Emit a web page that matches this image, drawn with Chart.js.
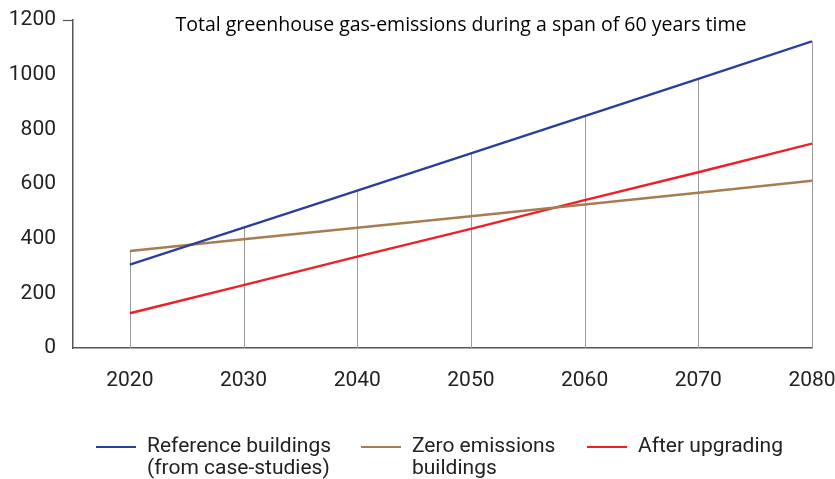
<!DOCTYPE html>
<html>
<head>
<meta charset="utf-8">
<script src="https://cdn.jsdelivr.net/npm/chart.js@4.4.0/dist/chart.umd.min.js"></script>
<style>
    html, body { margin: 0; padding: 0; background: #fff; }
    #wrap { position: relative; width: 835px; height: 479px; }
    #legend { position: absolute; left: 0; top: 434px; width: 835px; height: 45px; font-family: Roboto, sans-serif; font-size: 21px; color: #222; overflow: hidden; }
    .item { position: absolute; top: 0; display: flex; align-items: flex-start; }
    .swatch { width: 40px; height: 2px; margin-top: 12px; margin-right: 11px; }
    .label { line-height: 22px; }
</style>
</head>
<body>
<div id="wrap">
    <canvas id="lineChart" width="835" height="479"></canvas>
    <div id="legend"></div>
</div>
<script>
// Chart data
const years = [2020, 2030, 2040, 2050, 2060, 2070, 2080];
const referenceBuildings = [305, 440, 576, 712, 848, 985, 1122];
const zeroEmissions = [355, 398, 440, 482, 525, 568, 612];
const afterUpgrading = [127, 230, 334, 436, 541, 643, 748];
const yTicks = [0, 200, 400, 600, 800, 1000, 1200];
const seriesNames = [['Reference buildings', '(from case-studies)'], ['Zero emissions', 'buildings'], ['After upgrading']];
const seriesColors = ['#2b3e9c', '#a67c52', '#ee1f27'];
const chartTitle = 'Total greenhouse gas-emissions during a span of 60 years time';

const toPoints = (arr) => arr.map((v, i) => ({ x: years[i], y: v }));

// Vertical drop lines from the axis up to the highest series at each year
const dropLines = {
    id: 'dropLines',
    beforeDatasetsDraw(chart) {
        const ctx = chart.ctx;
        const xs = chart.scales.x;
        const ys = chart.scales.y;
        ctx.save();
        ctx.strokeStyle = '#9a9a9a';
        ctx.lineWidth = 1;
        years.forEach((yr, i) => {
            const top = Math.max(referenceBuildings[i], zeroEmissions[i], afterUpgrading[i]);
            const px = Math.round(xs.getPixelForValue(yr)) + 0.5;
            ctx.beginPath();
            ctx.moveTo(px, ys.getPixelForValue(0));
            ctx.lineTo(px, ys.getPixelForValue(top));
            ctx.stroke();
        });
        // small tick at the top of the y axis
        const topY = Math.round(ys.getPixelForValue(1200)) + 0.5;
        ctx.strokeStyle = '#555';
        ctx.lineWidth = 1.2;
        ctx.beginPath();
        ctx.moveTo(xs.left - 10, topY);
        ctx.lineTo(xs.left, topY);
        ctx.stroke();
        ctx.restore();
    },
    afterDraw(chart) {
        const ctx = chart.ctx;
        ctx.save();
        ctx.font = '19.5px "Open Sans", sans-serif';
        ctx.fillStyle = '#000';
        ctx.textAlign = 'center';
        ctx.textBaseline = 'middle';
        ctx.fillText(chartTitle, 461, 25);
        ctx.restore();
    }
};

const ctxLine = document.getElementById('lineChart').getContext('2d');
const lineChart = new Chart(ctxLine, {
    type: 'line',
    data: {
        datasets: [
            { label: seriesNames[0].join(' '), data: toPoints(referenceBuildings), borderColor: seriesColors[0] },
            { label: seriesNames[1].join(' '), data: toPoints(zeroEmissions), borderColor: seriesColors[1] },
            { label: seriesNames[2].join(' '), data: toPoints(afterUpgrading), borderColor: seriesColors[2] }
        ]
    },
    options: {
        responsive: false,
        animation: false,
        layout: { padding: { top: 20, right: 0, left: 0, bottom: 0 } },
        elements: {
            line: { borderWidth: 2.4, tension: 0 },
            point: { radius: 0 }
        },
        plugins: {
            legend: { display: false },
            title: { display: false },
            tooltip: { enabled: false }
        },
        scales: {
            x: {
                type: 'linear',
                min: 2015,
                max: 2080,
                afterBuildTicks: (axis) => { axis.ticks = years.map(v => ({ value: v })); },
                afterFit: (axis) => { axis.height = 131; axis.paddingRight = 23; },
                grid: { display: false, drawTicks: false },
                border: { display: true, color: '#555', width: 1.5 },
                ticks: {
                    padding: 20,
                    autoSkip: false,
                    maxRotation: 0,
                    color: '#222',
                    font: { family: 'Roboto', size: 21 },
                    callback: (v) => String(v)
                }
            },
            y: {
                min: 0,
                max: 1200,
                afterBuildTicks: (axis) => { axis.ticks = yTicks.map(v => ({ value: v })); },
                afterFit: (axis) => { axis.width = 73; axis.paddingTop = 0; axis.paddingBottom = 0; },
                grid: { display: false, drawTicks: false },
                border: { display: true, color: '#555', width: 1.5 },
                ticks: {
                    padding: 17,
                    color: '#222',
                    font: { family: 'Roboto', size: 21 },
                    callback: (v) => String(v)
                }
            }
        }
    },
    plugins: [dropLines]
});

// Legend below the chart
const legendLeft = [96, 361, 587];
const legend = document.getElementById('legend');
seriesNames.forEach((name, i) => {
    const item = document.createElement('div');
    item.className = 'item';
    item.style.left = legendLeft[i] + 'px';
    const sw = document.createElement('div');
    sw.className = 'swatch';
    sw.style.background = seriesColors[i];
    const lbl = document.createElement('div');
    lbl.className = 'label';
    lbl.innerHTML = name.join('<br>');
    item.appendChild(sw);
    item.appendChild(lbl);
    legend.appendChild(item);
});
</script>
</body>
</html>
